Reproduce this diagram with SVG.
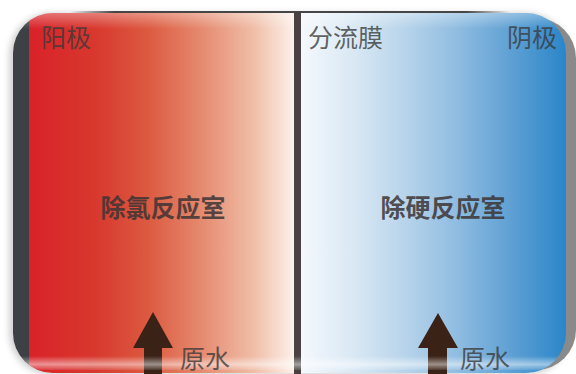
<svg xmlns="http://www.w3.org/2000/svg" width="576" height="374" viewBox="0 0 576 374">
  <defs>
    <linearGradient id="red" x1="0" y1="0" x2="1" y2="0">
      <stop offset="0" stop-color="#d92229"/>
      <stop offset="0.25" stop-color="#d8382e"/>
      <stop offset="0.45" stop-color="#dc5a40"/>
      <stop offset="0.65" stop-color="#e58a6f"/>
      <stop offset="0.85" stop-color="#f0bea8"/>
      <stop offset="1" stop-color="#fcf1ea"/>
    </linearGradient>
    <linearGradient id="blue" x1="0" y1="0" x2="1" y2="0">
      <stop offset="0" stop-color="#f4f8fc"/>
      <stop offset="0.2" stop-color="#d9e8f4"/>
      <stop offset="0.4" stop-color="#b6d3ea"/>
      <stop offset="0.6" stop-color="#8dbbe0"/>
      <stop offset="0.8" stop-color="#5d9fd3"/>
      <stop offset="1" stop-color="#2a86c9"/>
    </linearGradient>
    <linearGradient id="glossTop" x1="0" y1="0" x2="0" y2="1">
      <stop offset="0" stop-color="#fff" stop-opacity="0.35"/>
      <stop offset="1" stop-color="#fff" stop-opacity="0"/>
    </linearGradient>
    <linearGradient id="glossBot" x1="0" y1="0" x2="0" y2="1">
      <stop offset="0" stop-color="#fff" stop-opacity="0"/>
      <stop offset="0.6" stop-color="#fff" stop-opacity="0.5"/>
      <stop offset="1" stop-color="#fff" stop-opacity="0.1"/>
    </linearGradient>
    <linearGradient id="topline" x1="0" y1="0" x2="1" y2="0">
      <stop offset="0" stop-color="#333" stop-opacity="0"/>
      <stop offset="0.1" stop-color="#333" stop-opacity="0.9"/>
      <stop offset="0.9" stop-color="#333" stop-opacity="0.9"/>
      <stop offset="1" stop-color="#333" stop-opacity="0"/>
    </linearGradient>
    <clipPath id="panel">
      <rect x="13" y="13" width="553" height="360" rx="40" ry="40"/>
    </clipPath>
    <filter id="shadow" x="-10%" y="-10%" width="120%" height="120%">
      <feGaussianBlur stdDeviation="3"/>
    </filter>
    <style>
      .label { font-family: "Noto Sans CJK SC", "Noto Sans", sans-serif; font-size: 25px; fill: #3a3a3a; fill-opacity: 0.8; }
      .room { font-family: "Noto Sans CJK SC", "Noto Sans", sans-serif; font-size: 25px; font-weight: bold; fill: #3c3434; fill-opacity: 0.85; }
      .arrow { fill: #3b2216; }
    </style>
  </defs>

  <rect width="576" height="374" fill="#ffffff"/>

  <g id="frame">
    <rect x="9" y="13" width="560" height="362" rx="42" fill="#000" fill-opacity="0.18" filter="url(#shadow)"/>
    <rect x="23" y="18" width="553" height="352" rx="40" fill="#8a8a8a"/>
    <rect x="70" y="11" width="440" height="3" fill="url(#topline)"/>
    <g clip-path="url(#panel)">
      <rect x="13" y="13" width="16" height="360" fill="#3d4145"/>
      <rect x="29" y="13" width="265" height="360" fill="url(#red)"/>
      <rect x="301" y="13" width="265" height="360" fill="url(#blue)"/>
      <rect x="13" y="13" width="553" height="16" fill="url(#glossTop)"/>
    </g>
  </g>

  <g id="membrane">
    <rect x="294" y="12" width="7" height="362" fill="#4a4242"/>
  </g>

  <g id="anode">
    <text class="label" x="41" y="47">阳极</text>
  </g>
  <g id="membrane-label">
    <text class="label" x="308" y="47">分流膜</text>
  </g>
  <g id="cathode">
    <text class="label" x="507" y="47">阴极</text>
  </g>

  <g id="chamber-cl">
    <text class="room" x="163" y="217" text-anchor="middle">除氯反应室</text>
  </g>
  <g id="chamber-hard">
    <text class="room" x="443" y="217" text-anchor="middle">除硬反应室</text>
  </g>

  <g id="connectors">
    <polygon class="arrow" points="153,312 133,348 144,348 144,374 162,374 162,348 173,348"/>
    <polygon class="arrow" points="438,313 418,348 428,348 428,374 447,374 447,348 458,348" fill="#4a2510"/>
  </g>

  <g id="gloss" clip-path="url(#panel)">
    <rect x="13" y="356" width="553" height="14" fill="url(#glossBot)"/>
  </g>

  <g id="raw-water-left">
    <text class="label" x="180" y="368">原水</text>
  </g>
  <g id="raw-water-right">
    <text class="label" x="460" y="368">原水</text>
  </g>
</svg>
